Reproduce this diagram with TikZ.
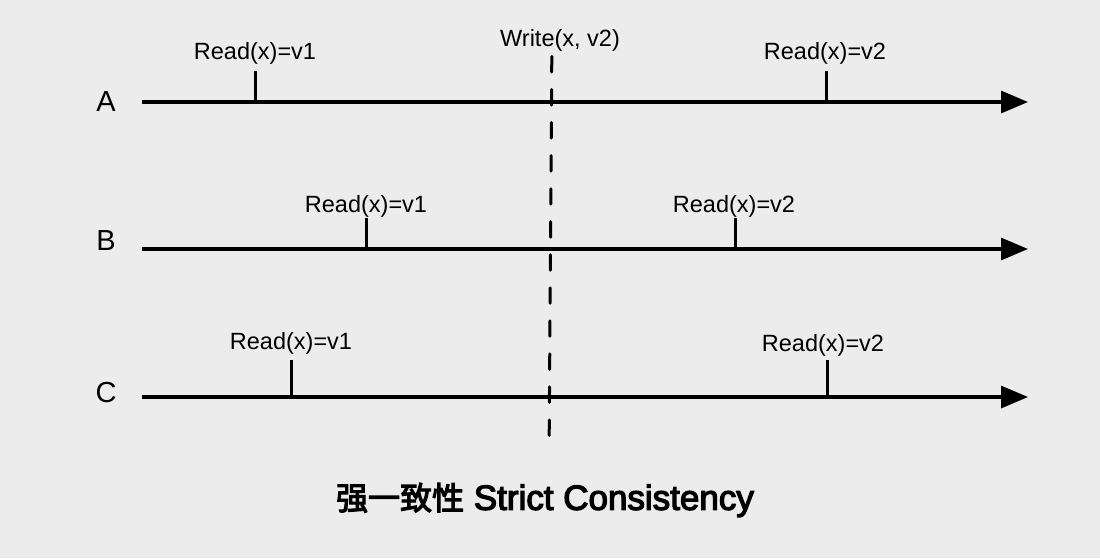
\documentclass[tikz,border=0pt]{standalone}
\usepackage{fontspec}
\setmainfont{Liberation Sans}
\newfontfamily\cjk{Noto Sans CJK SC}[FakeBold=3.5]
\newfontfamily\titlefont{Liberation Sans}[FakeBold=3.5]
\usetikzlibrary{arrows.meta}
\definecolor{bggray}{HTML}{ECECEC}

\tikzset{
  timeline/.style={line width=3.2pt,-{Triangle[length=27pt,width=22pt]}},
  readmark/.style={line width=3pt},
  oplabel/.style={inner sep=0pt,font=\fontsize{23.5}{28}\selectfont},
  proclabel/.style={inner sep=0pt,font=\fontsize{29}{34}\selectfont},
  writeline/.style={line width=3pt,line cap=round,dash pattern=on 15.5pt off 17.54pt}
}

\begin{document}
\begin{tikzpicture}[x=1pt,y=-1pt]

\useasboundingbox[fill=bggray] (0,0) rectangle (1100,558);

% process names
\node[proclabel] (pA) at (106,102) {A};
\node[proclabel] (pB) at (106,241) {B};
\node[proclabel] (pC) at (106,393) {C};

% time lines
\coordinate (a0) at (142,102);
\coordinate (a1) at (1028,102);
\coordinate (b0) at (142,249);
\coordinate (b1) at (1028,249);
\coordinate (c0) at (142,397);
\coordinate (c1) at (1028,397);
\draw[timeline] (a0) -- (a1);
\draw[timeline] (b0) -- (b1);
\draw[timeline] (c0) -- (c1);

% the write
\node[oplabel] (w) at (560,40) {Write(x, v2)};
\coordinate (w0) at (551.8,56.5);
\coordinate (w1) at (549.2,435.5);
\draw[writeline] (w0) -- (w1);

% reads on A
\coordinate (ra1) at (255,102);
\coordinate (ra1t) at (255,71);
\draw[readmark] (ra1) -- (ra1t);
\node[oplabel] (lra1) at (255,53) {Read(x)=v1};
\coordinate (ra2) at (826,102);
\coordinate (ra2t) at (826,71);
\draw[readmark] (ra2) -- (ra2t);
\node[oplabel] (lra2) at (825,53) {Read(x)=v2};

% reads on B
\coordinate (rb1) at (366,249);
\coordinate (rb1t) at (366,218);
\draw[readmark] (rb1) -- (rb1t);
\node[oplabel] (lrb1) at (366,206) {Read(x)=v1};
\coordinate (rb2) at (735,249);
\coordinate (rb2t) at (735,218);
\draw[readmark] (rb2) -- (rb2t);
\node[oplabel] (lrb2) at (734,206) {Read(x)=v2};

% reads on C
\coordinate (rc1) at (291,397);
\coordinate (rc1t) at (291,360);
\draw[readmark] (rc1) -- (rc1t);
\node[oplabel] (lrc1) at (291,343) {Read(x)=v1};
\coordinate (rc2) at (827,397);
\coordinate (rc2t) at (827,360);
\draw[readmark] (rc2) -- (rc2t);
\node[oplabel] (lrc2) at (823,345) {Read(x)=v2};

% caption
\node[inner sep=0pt,font=\fontsize{35}{40}\selectfont\titlefont] (title) at (545,500)
  {{\fontsize{32}{38}\selectfont\cjk 强一致性} Strict Consistency};

\end{tikzpicture}
\end{document}
